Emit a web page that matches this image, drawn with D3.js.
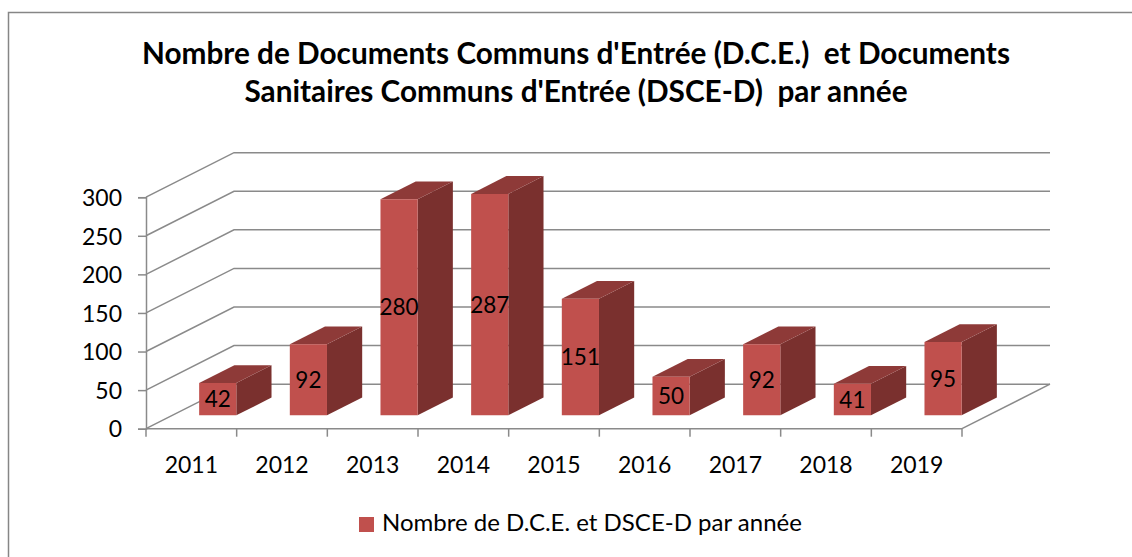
<!DOCTYPE html>
<html>
<head>
<meta charset="utf-8">
<script src="https://cdn.jsdelivr.net/npm/d3@7"></script>
<style>
  html, body { margin: 0; padding: 0; background: #fff; }
  svg { display: block; }
  text { font-family: Lato, "Open Sans", sans-serif; fill: #000; white-space: pre; }
</style>
</head>
<body>
<svg id="chart" width="1132" height="557"></svg>
<script>
const titleLines = [
  "Nombre de Documents Communs d'Entrée (D.C.E.)  et Documents",
  "Sanitaires Communs d'Entrée (DSCE-D)  par année"
];
const years = ["2011", "2012", "2013", "2014", "2015", "2016", "2017", "2018", "2019"];
const values = [42, 92, 280, 287, 151, 50, 92, 41, 95];
const yTicks = [0, 50, 100, 150, 200, 250, 300];
const seriesName = "Nombre de D.C.E. et DSCE-D par année";

const svg = d3.select("#chart");
const gridColor = "#8a8a8a";
const colFront = "#c0504d", colTop = "#8e3a38", colSide = "#7a302e";

// 3D oblique depth offset
const DX = 88, DY = -44.5;
const x = d3.scaleBand().domain(years).range([146, 962]).padding(0);
const y = d3.scaleLinear().domain([0, 300]).range([428.7, 197.2]);
const proj = (px, py, t) => [px + DX * t, py + DY * t];

function fitText(sel, target) {
  const w = sel.node().getComputedTextLength();
  const fs = parseFloat(sel.attr("font-size"));
  sel.attr("font-size", (fs * target / w).toFixed(2));
}

// border
svg.append("rect").attr("x", 8.5).attr("y", 12.5).attr("width", 1140).attr("height", 560)
  .attr("fill", "none").attr("stroke", "#868686").attr("stroke-width", 1.5);

// title
const t1 = svg.append("text").attr("x", 576).attr("y", 64).attr("text-anchor", "middle")
  .attr("font-weight", "bold").attr("font-size", 24).text(titleLines[0]);
fitText(t1, 868);
const t2 = svg.append("text").attr("x", 576).attr("y", 102).attr("text-anchor", "middle")
  .attr("font-weight", "bold").attr("font-size", 24).text(titleLines[1]);
t2.attr("font-size", t1.attr("font-size"));

// walls & gridlines
const x0 = x.range()[0], x1 = x.range()[1];
const grid = svg.append("g").attr("stroke", gridColor).attr("stroke-width", 1.5).attr("fill", "none");
yTicks.forEach(v => {
  const a = proj(x0, y(v), 0), b = proj(x0, y(v), 1), c = proj(x1, y(v), 1);
  grid.append("path").attr("d", `M${a[0]},${a[1]}L${b[0]},${b[1]}L${c[0]},${c[1]}`);
});
// floor right edge
{
  const a = proj(x1, y(0), 0), b = proj(x1, y(0), 1);
  grid.append("path").attr("d", `M${a[0]},${a[1]}L${b[0]},${b[1]}`);
}

// y axis
const yAxis = svg.append("g").attr("transform", `translate(${x0},0)`)
  .call(d3.axisLeft(y).tickValues(yTicks).tickSize(8).tickPadding(16).tickFormat(d3.format("d")));
yAxis.select(".domain").attr("stroke", gridColor).attr("stroke-width", 1.5);
yAxis.selectAll(".tick line").attr("stroke", gridColor).attr("stroke-width", 1.5);
yAxis.selectAll(".tick text").attr("font-size", 23).attr("font-family", "Lato").attr("fill", "#000").attr("dy", "0.36em");

// x axis (labels at band centers, ticks at band boundaries)
const xAxis = svg.append("g").attr("transform", `translate(0,${y(0)})`)
  .call(d3.axisBottom(x).tickSize(0).tickPadding(28));
xAxis.select(".domain").remove();
xAxis.selectAll(".tick text").attr("font-size", 23).attr("font-family", "Lato").attr("fill", "#000");
svg.append("path").attr("stroke", gridColor).attr("stroke-width", 1.5)
  .attr("d", `M${x0},${y(0)}H${x1}`);
const bounds = years.map(d => x(d)).concat([x1]);
svg.append("g").selectAll("line").data(bounds).join("line")
  .attr("x1", d => d).attr("x2", d => d).attr("y1", y(0)).attr("y2", y(0) + 8)
  .attr("stroke", gridColor).attr("stroke-width", 1.5);

// bars
const T0 = 0.3, T1 = 0.7, BW = 0.41;
const bars = svg.append("g");
years.forEach((yr, i) => {
  const v = values[i];
  const cx = x(yr) + x.bandwidth() / 2;
  const hw = x.bandwidth() * BW / 2;
  const L = cx - hw, R = cx + hw, B = y(0), Tp = y(v);
  const pts = (arr) => arr.map(p => p.join(",")).join(" ");
  const fBL = proj(L, B, T0), fBR = proj(R, B, T0), fTR = proj(R, Tp, T0), fTL = proj(L, Tp, T0);
  const bBR = proj(R, B, T1), bTR = proj(R, Tp, T1), bTL = proj(L, Tp, T1);
  bars.append("polygon").attr("points", pts([fBR, bBR, bTR, fTR])).attr("fill", colSide);
  bars.append("polygon").attr("points", pts([fTL, fTR, bTR, bTL])).attr("fill", colTop);
  bars.append("polygon").attr("points", pts([fBL, fBR, fTR, fTL])).attr("fill", colFront);
  svg.append("text").attr("x", (fBL[0] + fBR[0]) / 2).attr("y", (fBL[1] + fTL[1]) / 2)
    .attr("dy", "0.36em").attr("text-anchor", "middle").attr("font-size", 22.5).text(v);
});

// legend
svg.append("rect").attr("x", 359).attr("y", 517).attr("width", 15).attr("height", 15).attr("fill", colFront);
const lt = svg.append("text").attr("x", 382).attr("y", 531).attr("font-size", 22).text(seriesName);
fitText(lt, 420);
</script>
</body>
</html>
